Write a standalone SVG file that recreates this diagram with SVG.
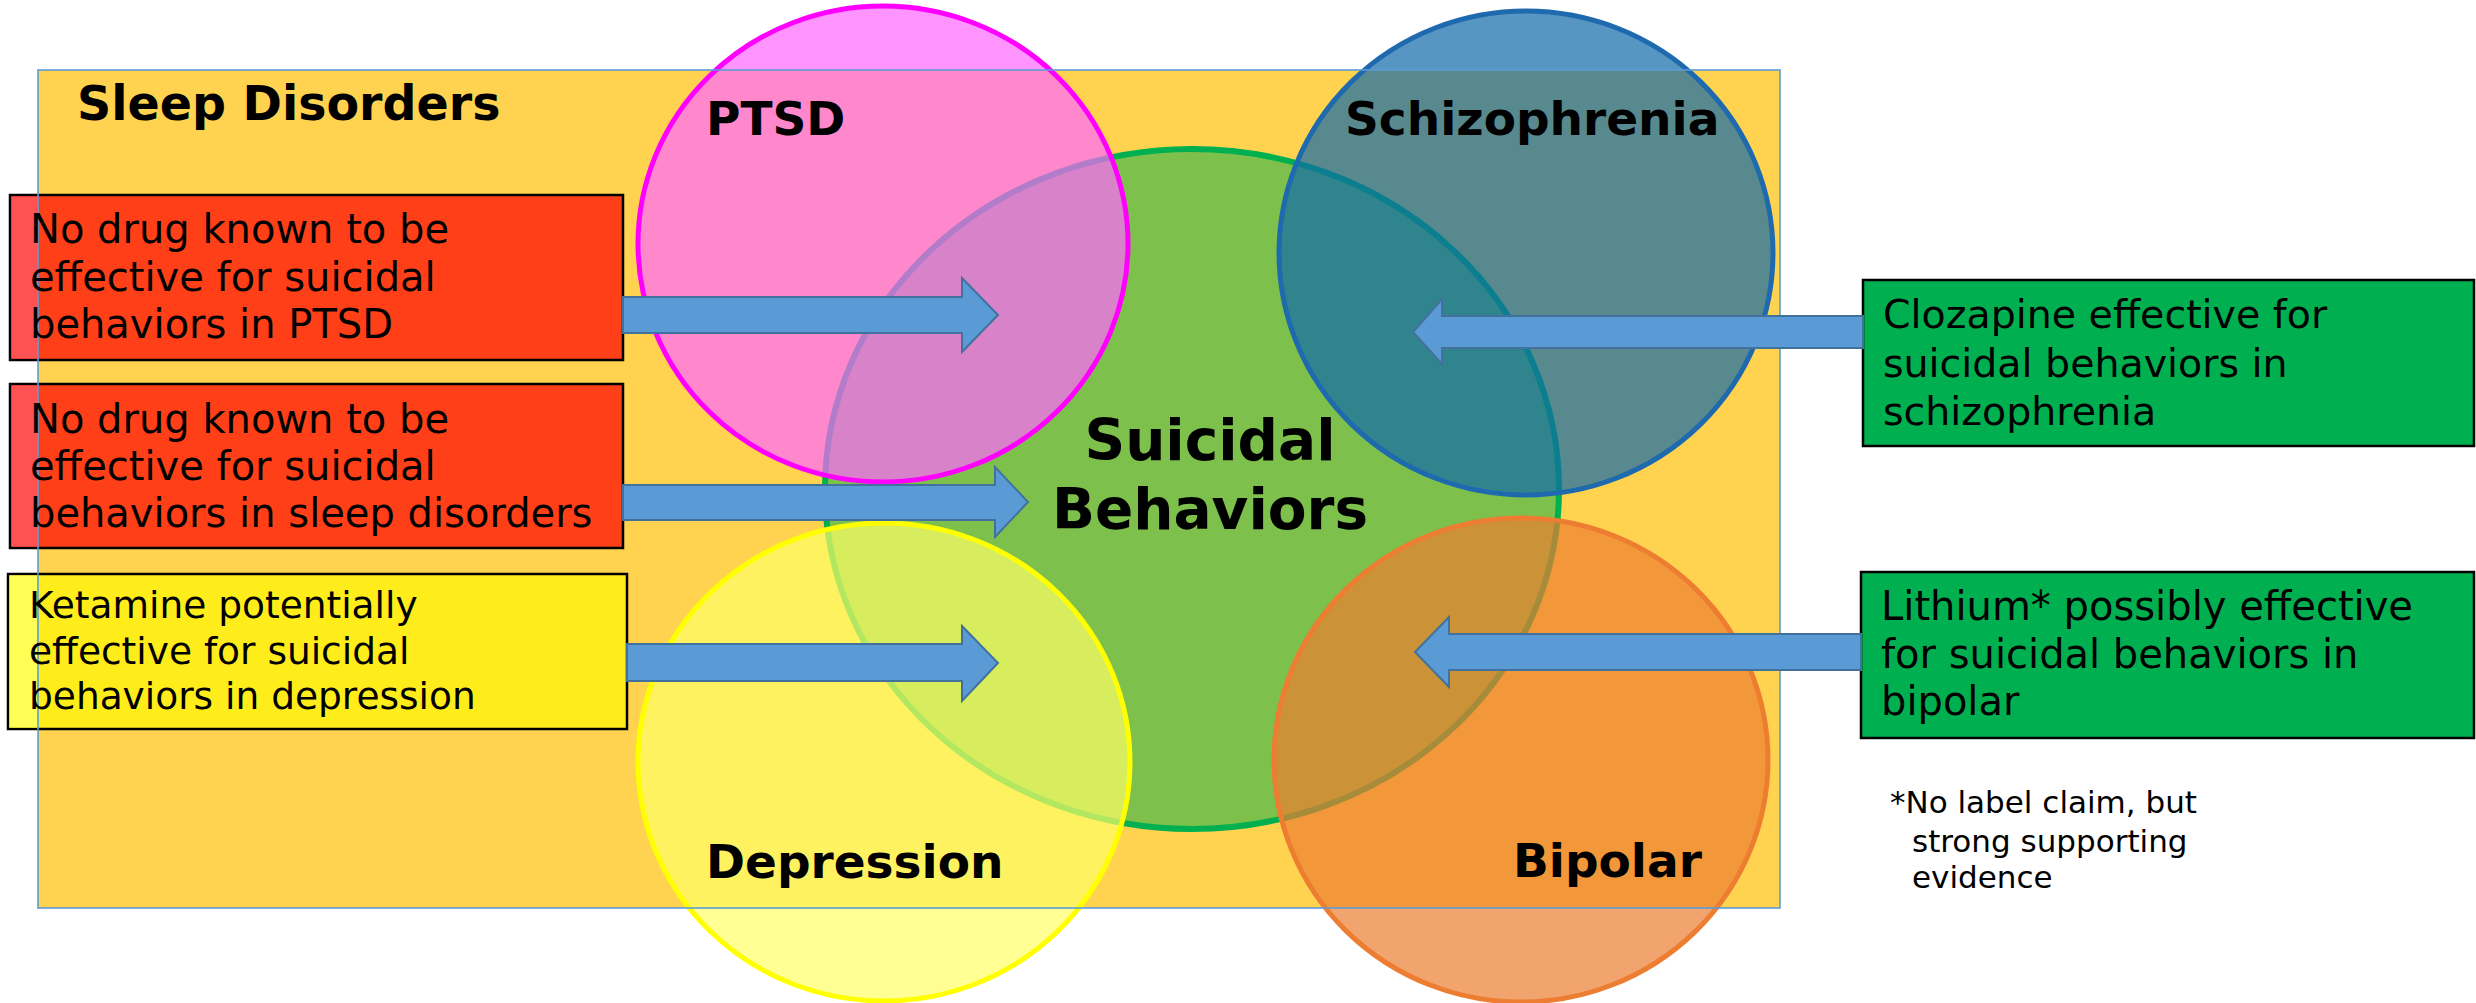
<svg xmlns="http://www.w3.org/2000/svg" width="2476" height="1003" viewBox="0 0 2476 1003">
<style>
.lbl{font-family:"DejaVu Sans",Verdana,sans-serif;font-weight:bold;fill:#000}
.txt{font-family:"DejaVu Sans",Verdana,sans-serif;fill:#000}
.box{stroke:#000;stroke-width:2.5}
.arrow{fill:#5B9BD5;stroke:#41719C;stroke-width:2}
</style>
<rect width="2476" height="1003" fill="#fff"/>
<g id="sleep-disorders">
<rect x="38" y="70" width="1742" height="838" fill="#FFD350"/>
</g>
<g id="box-ptsd">
<rect class="box" x="10" y="195" width="613" height="165" fill="#FF3F18"/>
<rect x="11.5" y="196.5" width="26.5" height="162" fill="#FF5252"/>
</g>
<g id="box-sleep">
<rect class="box" x="10" y="384" width="613" height="164" fill="#FF3F18"/>
<rect x="11.5" y="385.5" width="26.5" height="161" fill="#FF5252"/>
</g>
<g id="box-depression">
<rect class="box" x="8" y="574" width="619" height="155" fill="#FFED1B"/>
<rect x="9.5" y="575.5" width="28.5" height="152" fill="#FFFF55"/>
</g>
<g id="suicidal-behaviors">
<ellipse cx="1192" cy="489" rx="367" ry="340" fill="#7DC14C" stroke="#00B050" stroke-width="6"/>
</g>
<g id="ptsd">
<ellipse cx="883" cy="244" rx="245" ry="238" fill="#FF66FF" fill-opacity="0.7" stroke="#FF00FF" stroke-width="5"/>
</g>
<g id="depression">
<ellipse cx="884" cy="762" rx="246" ry="239" fill="#FFFF66" fill-opacity="0.7" stroke="#FFFF00" stroke-width="5"/>
</g>
<g id="schizophrenia">
<ellipse cx="1526" cy="253" rx="247" ry="242" fill="#1069A9" fill-opacity="0.7" stroke="#1F6AAE" stroke-width="5"/>
</g>
<g id="bipolar">
<ellipse cx="1521" cy="760" rx="247" ry="242" fill="#ED7D31" fill-opacity="0.7" stroke="#ED7D31" stroke-width="5"/>
</g>
<rect x="38" y="70" width="1742" height="838" fill="none" stroke="#5B9BD5" stroke-width="2" stroke-opacity="0.8"/>
<g id="box-clozapine">
<rect class="box" x="1863" y="280" width="611" height="166" fill="#00B050"/>
</g>
<g id="box-lithium">
<rect class="box" x="1861" y="572" width="613" height="166" fill="#00B050"/>
</g>
<g id="connectors">
<polygon class="arrow" points="623,297 962,297 962,278 998,315 962,352 962,333 623,333"/>
<polygon class="arrow" points="623,485 995,485 995,467 1028,502 995,537 995,520 623,520"/>
<polygon class="arrow" points="627,644 962,644 962,626 998,663 962,701 962,681 627,681"/>
<polygon class="arrow" points="1863,316 1442,316 1442,299 1413,332 1442,364 1442,348 1863,348"/>
<polygon class="arrow" points="1861,634 1449,634 1449,617 1415,652 1449,687 1449,670 1861,670"/>
</g>
<g id="labels">
<text class="lbl" x="77" y="120" font-size="47.5">Sleep Disorders</text>
<text class="lbl" x="706" y="135" font-size="47">PTSD</text>
<text class="lbl" x="1345" y="135" font-size="47">Schizophrenia</text>
<text class="lbl" x="706" y="878" font-size="47">Depression</text>
<text class="lbl" x="1513" y="877" font-size="47">Bipolar</text>
<text class="lbl" x="1210" y="460" font-size="56.5" text-anchor="middle">Suicidal</text>
<text class="lbl" x="1210" y="529" font-size="56.5" text-anchor="middle">Behaviors</text>
</g>
<g id="box-texts">
<text class="txt" font-size="40"><tspan x="30" y="243">No drug known to be</tspan><tspan x="30" y="291">effective for suicidal</tspan><tspan x="30" y="338">behaviors in PTSD</tspan></text>
<text class="txt" font-size="40"><tspan x="30" y="433">No drug known to be</tspan><tspan x="30" y="480">effective for suicidal</tspan><tspan x="30" y="527">behaviors in sleep disorders</tspan></text>
<text class="txt" font-size="37.5"><tspan x="29" y="618">Ketamine potentially</tspan><tspan x="29" y="664">effective for suicidal</tspan><tspan x="29" y="709">behaviors in depression</tspan></text>
<text class="txt" font-size="39.5"><tspan x="1883" y="328">Clozapine effective for</tspan><tspan x="1883" y="377">suicidal behaviors in</tspan><tspan x="1883" y="425">schizophrenia</tspan></text>
<text class="txt" font-size="40"><tspan x="1881" y="620">Lithium* possibly effective</tspan><tspan x="1881" y="668">for suicidal behaviors in</tspan><tspan x="1881" y="715">bipolar</tspan></text>
<text class="txt" font-size="31"><tspan x="1890" y="813">*No label claim, but</tspan><tspan x="1912" y="852">strong supporting</tspan><tspan x="1912" y="888">evidence</tspan></text>
</g>
</svg>
